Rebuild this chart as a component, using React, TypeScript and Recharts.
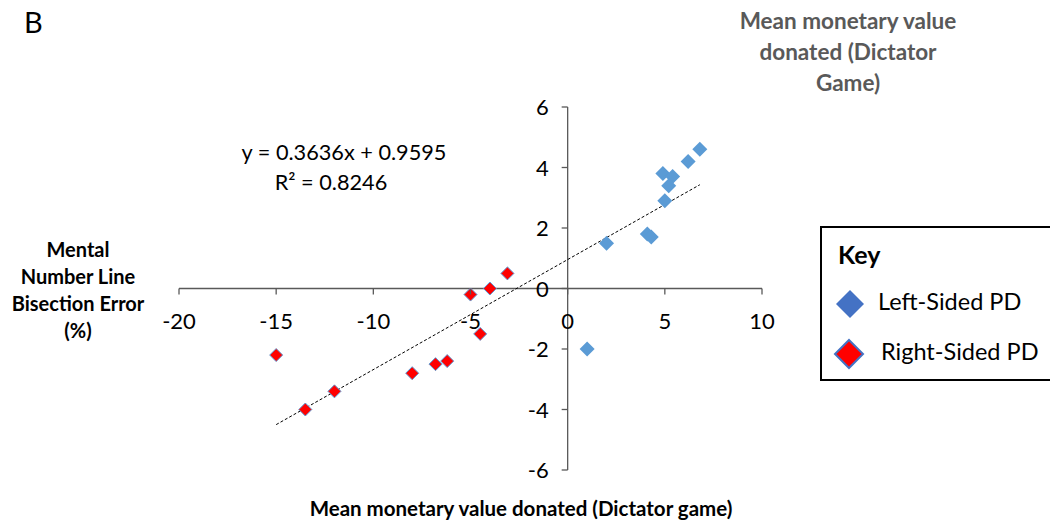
import { ScatterChart, Scatter, XAxis, YAxis, ReferenceLine } from 'recharts';

// Left-sided PD (blue)
const leftX = [6.8, 6.2, 4.9, 5.4, 5.2, 5.0, 4.1, 4.3, 2.0, 1.0];
const leftY = [4.6, 4.2, 3.8, 3.7, 3.4, 2.9, 1.8, 1.7, 1.5, -2.0];
// Right-sided PD (red)
const rightX = [-3.1, -4.0, -5.0, -4.5, -6.2, -6.8, -8.0, -12.0, -13.5, -15.0];
const rightY = [0.5, 0.0, -0.2, -1.5, -2.4, -2.5, -2.8, -3.4, -4.0, -2.2];
// linear trendline end points
const trendX = [-15, 6.8];
const trendY = [-4.5, 3.43];

const xTicks = [-20, -15, -10, -5, 0, 5, 10];
const yTicks = [-6, -4, -2, 0, 2, 4, 6];
const xDomain: [number, number] = [-20, 10];
const yDomain: [number, number] = [-6, 6];

const W = 1050;
const H = 521;
const LEFT = 179;
const RIGHT = 762;
const TOP = 107;
const BOTTOM = 470;
const AXIS_W = 30;
const AXIS_H = 30;
const FONT = 'Lato, "Open Sans", sans-serif';

const leftData = leftX.map((x, i) => ({ x, y: leftY[i] }));
const rightData = rightX.map((x, i) => ({ x, y: rightY[i] }));
const trendData = trendX.map((x, i) => ({ x, y: trendY[i] }));

// where the axes cross (value 0 on the other axis)
const zeroY = TOP + ((yDomain[1] - 0) / (yDomain[1] - yDomain[0])) * (BOTTOM - TOP);
const zeroX = LEFT + ((0 - xDomain[0]) / (xDomain[1] - xDomain[0])) * (RIGHT - LEFT);

const XTick = (props: any) => {
  const { x, payload } = props;
  return (
    <g>
      <line x1={x} x2={x} y1={zeroY} y2={zeroY + 6} stroke="#595959" strokeWidth={1.3} />
      <text x={x} y={zeroY + 40} textAnchor="middle" fontSize={22} fontFamily={FONT} fill="#000">
        {payload.value}
      </text>
    </g>
  );
};

const YTick = (props: any) => {
  const { y, payload } = props;
  return (
    <g>
      <line x1={zeroX - 6} x2={zeroX} y1={y} y2={y} stroke="#595959" strokeWidth={1.3} />
      <text x={zeroX - 19} y={y + 8} textAnchor="end" fontSize={22} fontFamily={FONT} fill="#000">
        {payload.value}
      </text>
    </g>
  );
};

const diamond = (fill: string, stroke: string, r: number) => (props: any) => {
  const { cx, cy } = props;
  return (
    <polygon
      points={`${cx},${cy - r} ${cx + r},${cy} ${cx},${cy + r} ${cx - r},${cy}`}
      fill={fill}
      stroke={stroke}
      strokeWidth={stroke === 'none' ? 0 : 1}
    />
  );
};

const noDot = () => <g />;

export default function App() {
  return (
    <div style={{ position: 'absolute', left: 0, top: 0, width: W, height: H, background: '#fff', fontFamily: FONT }}>
      <ScatterChart
        width={W}
        height={H}
        margin={{ top: TOP, right: W - RIGHT, bottom: H - BOTTOM - AXIS_H, left: LEFT - AXIS_W }}
      >
        <XAxis
          type="number"
          dataKey="x"
          domain={xDomain}
          ticks={xTicks}
          height={AXIS_H}
          axisLine={false}
          tickLine={false}
          tick={<XTick />}
          interval={0}
        />
        <YAxis
          type="number"
          dataKey="y"
          domain={yDomain}
          ticks={yTicks}
          width={AXIS_W}
          axisLine={false}
          tickLine={false}
          tick={<YTick />}
          interval={0}
        />
        <ReferenceLine y={0} stroke="#595959" strokeWidth={1.3} />
        <ReferenceLine x={0} stroke="#595959" strokeWidth={1.3} />
        <Scatter
          data={trendData}
          line={{ stroke: '#000', strokeWidth: 1, strokeDasharray: '3 2' }}
          shape={noDot}
          isAnimationActive={false}
        />
        <Scatter data={leftData} fill="#5B9BD5" shape={diamond('#5B9BD5', 'none', 7.5)} isAnimationActive={false} />
        <Scatter data={rightData} fill="#FF0000" shape={diamond('#FF0000', '#5B9BD5', 6.5)} isAnimationActive={false} />
      </ScatterChart>

      <div style={{ position: 'absolute', left: 24, top: 4, fontSize: 29, color: '#000' }}>B</div>

      <div
        style={{
          position: 'absolute', left: 718, top: 5, width: 260, textAlign: 'center',
          fontSize: 22.5, fontWeight: 700, color: '#595959', lineHeight: '31px',
        }}
      >
        Mean monetary value<br />donated (Dictator<br />Game)
      </div>

      <div
        style={{
          position: 'absolute', left: 0, top: 236, width: 156, textAlign: 'center',
          fontSize: 20, fontWeight: 700, color: '#000', lineHeight: '27px',
        }}
      >
        Mental<br />Number Line<br />Bisection Error<br />(%)
      </div>

      <div
        style={{
          position: 'absolute', left: 271, top: 495, width: 500, textAlign: 'center',
          fontSize: 20.5, fontWeight: 700, color: '#000', lineHeight: '26px', whiteSpace: 'nowrap',
        }}
      >
        Mean monetary value donated (Dictator game)
      </div>

      <div
        style={{
          position: 'absolute', left: 224, top: 137, width: 240, textAlign: 'center',
          fontSize: 21.7, color: '#000', lineHeight: '30px',
        }}
      >
        y = 0.3636x + 0.9595<br />
        <span style={{ marginRight: 26 }}>R² = 0.8246</span>
      </div>

      <div
        style={{
          position: 'absolute', left: 820, top: 226, width: 250, height: 151,
          border: '2px solid #000', background: '#fff',
        }}
      >
        <div style={{ position: 'absolute', left: 16, top: 11, fontSize: 25, fontWeight: 700 }}>Key</div>
        <svg style={{ position: 'absolute', left: 12, top: 60 }} width={32} height={32}>
          <polygon points="16,2 30,16 16,30 2,16" fill="#4472C4" />
        </svg>
        <div style={{ position: 'absolute', left: 56, top: 59, fontSize: 23.5 }}>Left-Sided PD</div>
        <svg style={{ position: 'absolute', left: 10, top: 109 }} width={34} height={34}>
          <polygon points="17,3 31,17 17,31 3,17" fill="#FF0000" stroke="#4472C4" strokeWidth={2} />
        </svg>
        <div style={{ position: 'absolute', left: 59, top: 109, fontSize: 23.5 }}>Right-Sided PD</div>
      </div>
    </div>
  );
}
